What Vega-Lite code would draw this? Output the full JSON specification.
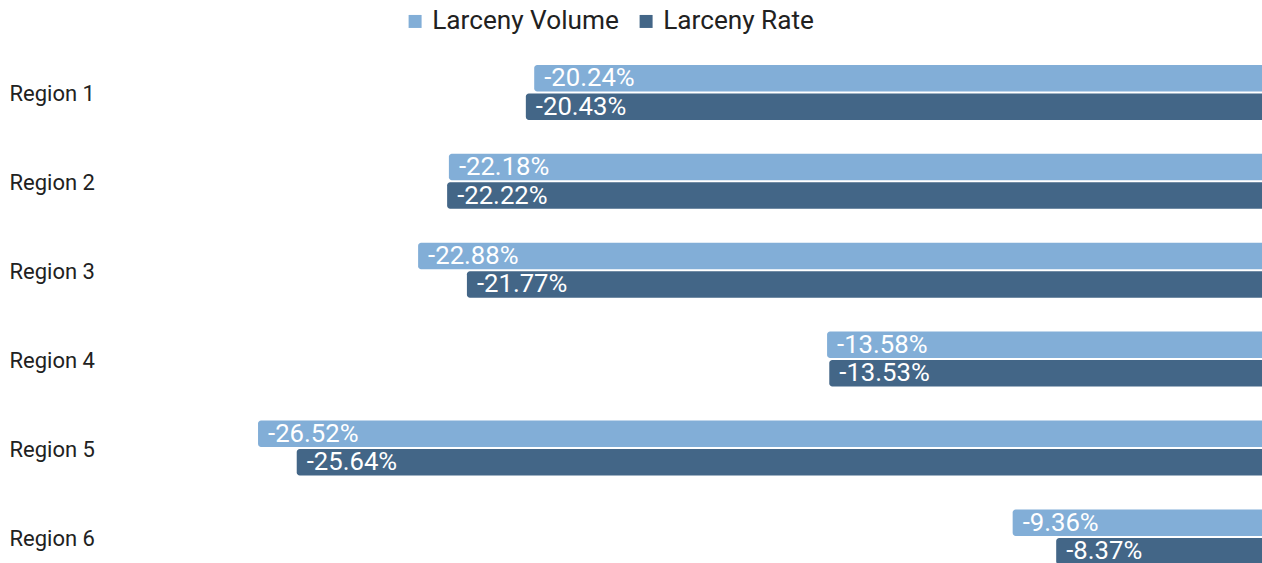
{
  "$schema": "https://vega.github.io/schema/vega-lite/v6.json",
  "width": 1157,
  "height": 515,
  "autosize": "none",
  "padding": {"left": 105, "top": 48, "right": 0, "bottom": 0},
  "config": {"view": {"stroke": null}, "font": "Roboto"},
  "data": {
    "values": [
      {"region": "Region 1", "metric": "Larceny Volume", "value": -20.24, "label": "-20.24%"},
      {"region": "Region 1", "metric": "Larceny Rate", "value": -20.43, "label": "-20.43%"},
      {"region": "Region 2", "metric": "Larceny Volume", "value": -22.18, "label": "-22.18%"},
      {"region": "Region 2", "metric": "Larceny Rate", "value": -22.22, "label": "-22.22%"},
      {"region": "Region 3", "metric": "Larceny Volume", "value": -22.88, "label": "-22.88%"},
      {"region": "Region 3", "metric": "Larceny Rate", "value": -21.77, "label": "-21.77%"},
      {"region": "Region 4", "metric": "Larceny Volume", "value": -13.58, "label": "-13.58%"},
      {"region": "Region 4", "metric": "Larceny Rate", "value": -13.53, "label": "-13.53%"},
      {"region": "Region 5", "metric": "Larceny Volume", "value": -26.52, "label": "-26.52%"},
      {"region": "Region 5", "metric": "Larceny Rate", "value": -25.64, "label": "-25.64%"},
      {"region": "Region 6", "metric": "Larceny Volume", "value": -9.36, "label": "-9.36%"},
      {"region": "Region 6", "metric": "Larceny Rate", "value": -8.37, "label": "-8.37%"}
    ]
  },
  "encoding": {
    "y": {
      "field": "region", "type": "nominal", "sort": null,
      "scale": {"range": [0, 533.3], "paddingInner": 0.381, "paddingOuter": 0.19},
      "axis": {"title": null, "ticks": false, "domain": false, "labelAlign": "left", "labelPadding": 96, "labelOffset": 2, "labelFontSize": 22, "labelColor": "#212121", "labelFont": "Roboto"}
    },
    "yOffset": {
      "field": "metric", "type": "nominal", "sort": ["Larceny Volume", "Larceny Rate"],
      "scale": {"paddingInner": 0.07, "paddingOuter": 0}
    },
    "x": {
      "field": "value", "type": "quantitative",
      "scale": {"domain": [-30, -3.69], "nice": false, "zero": false},
      "axis": null
    }
  },
  "layer": [
    {
      "mark": {"type": "bar", "clip": true, "cornerRadius": 3},
      "encoding": {
        "x2": {"datum": 0},
        "color": {
          "field": "metric", "type": "nominal",
          "scale": {"domain": ["Larceny Volume", "Larceny Rate"], "range": ["#82aed7", "#436687"]},
          "legend": {
            "title": null, "orient": "none", "legendX": 297, "legendY": -40, "direction": "horizontal",
            "symbolType": "square", "symbolSize": 169, "symbolStrokeWidth": 0, "labelFontSize": 26.2,
            "labelOffset": 4, "labelLimit": 400, "columnPadding": 14, "labelColor": "#212121", "labelFont": "Roboto"
          }
        }
      }
    },
    {
      "mark": {"type": "text", "clip": true, "align": "left", "baseline": "middle", "dx": 10, "color": "white", "fontSize": 25.7, "font": "Roboto"},
      "encoding": {"text": {"field": "label"}}
    }
  ]
}
